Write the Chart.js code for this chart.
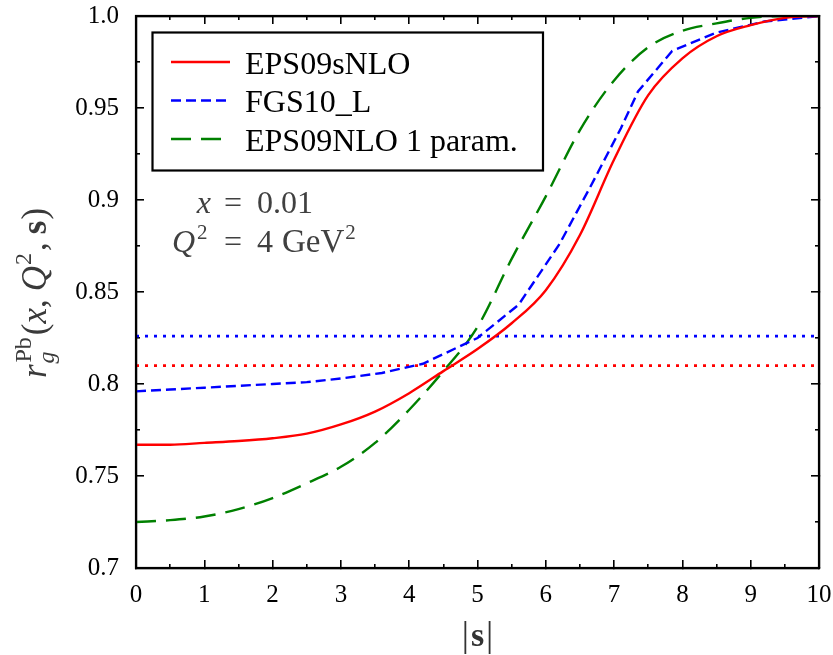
<!DOCTYPE html>
<html>
<head>
<meta charset="utf-8">
<script src="https://cdn.jsdelivr.net/npm/chart.js@4.4.1/dist/chart.umd.min.js"></script>
</head>
<body style="margin:0">
<canvas id="chart" width="833" height="655"></canvas>
<script>
// Impact-parameter grid |s| and the three model curves r_g^Pb(x=0.01, Q^2=4 GeV^2, s)
const sGrid = [0, 0.5, 1, 1.5, 2, 2.5, 3, 3.5, 4, 4.5, 5, 5.5, 6, 6.5, 7, 7.5, 8, 8.5, 9, 9.5, 10];
const eps09sNLO = [0.767, 0.767, 0.768, 0.769, 0.7705, 0.773, 0.778, 0.785, 0.795, 0.807, 0.819, 0.833, 0.851, 0.881, 0.922, 0.957, 0.977, 0.989, 0.995, 0.999, 1.0];
const eps09NLO1 = [0.725, 0.726, 0.728, 0.732, 0.738, 0.746, 0.755, 0.768, 0.786, 0.807, 0.831, 0.868, 0.902, 0.938, 0.965, 0.983, 0.992, 0.996, 0.999, 1.0, 1.0];

// FGS10_L is tabulated on a coarser grid of its own
const sFgs = [0, 0.5, 1, 1.5, 2, 2.5, 3, 3.6, 4.2, 5.0, 5.6, 6.2, 6.65, 7.1, 7.35, 7.85, 8.5, 9.2, 10];
const fgs10L = [0.796, 0.797, 0.798, 0.799, 0.800, 0.801, 0.803, 0.806, 0.811, 0.825, 0.843, 0.876, 0.907, 0.939, 0.959, 0.981, 0.991, 0.997, 1.0];

// Dotted reference levels (s-independent values)
const refEps09s = 0.810;
const refFgs = 0.826;

const seriesLabels = ['EPS09sNLO', 'FGS10_L', 'EPS09NLO 1 param.'];
const xTickLabels = ['0', '1', '2', '3', '4', '5', '6', '7', '8', '9', '10'];
const xMinorTicks = [0.5, 1.5, 2.5, 3.5, 4.5, 5.5, 6.5, 7.5, 8.5, 9.5];
const yTickValues = [0.7, 0.75, 0.8, 0.85, 0.9, 0.95, 1.0];
const yTickLabels = ['0.7', '0.75', '0.8', '0.85', '0.9', '0.95', '1.0'];
const yMinorTicks = [0.725, 0.775, 0.825, 0.875, 0.925, 0.975];

const SERIF = '"Liberation Serif", serif';
Chart.defaults.font.family = SERIF;

const pts = (xs, ys) => xs.map((x, i) => ({ x: x, y: ys[i] }));
const flat = (v) => [{ x: 0, y: v }, { x: 10, y: v }];

const datasets = [
  { label: seriesLabels[0], data: pts(sGrid, eps09sNLO), borderColor: '#ff0000', borderWidth: 2.4,
    cubicInterpolationMode: 'monotone', pointRadius: 0 },
  { label: seriesLabels[1], data: pts(sFgs, fgs10L), borderColor: '#0000ff', borderWidth: 2.4,
    borderDash: [10, 5], tension: 0, pointRadius: 0 },
  { label: seriesLabels[2], data: pts(sGrid, eps09NLO1), borderColor: '#008000', borderWidth: 2.4,
    borderDash: [20, 10], cubicInterpolationMode: 'monotone', pointRadius: 0 },
  { label: 'ref-fgs', data: flat(refFgs), borderColor: '#0000ff', borderWidth: 2.6,
    borderDash: [3, 6], pointRadius: 0 },
  { label: 'ref-eps', data: flat(refEps09s), borderColor: '#ff0000', borderWidth: 2.6,
    borderDash: [3, 6], pointRadius: 0 }
];

// Draws a sequence of styled text runs; returns the advance width
function runs(ctx, list, x0, y0, measureOnly) {
  let x = x0;
  for (const r of list) {
    ctx.font = (r.style ? r.style + ' ' : '') + r.size + 'px ' + SERIF;
    const w = ctx.measureText(r.t).width;
    if (!measureOnly) ctx.fillText(r.t, x + (r.dx || 0), y0 + (r.dy || 0));
    x += w + (r.gap || 0) + (r.dx || 0);
  }
  return x - x0;
}

const decor = {
  id: 'decor',
  afterDraw(chart) {
    const ctx = chart.ctx, a = chart.chartArea;
    const xs = chart.scales.x;
    ctx.save();
    ctx.strokeStyle = '#000';
    ctx.lineWidth = 2.2;
    ctx.strokeRect(a.left, a.top, a.right - a.left, a.bottom - a.top);

    // legend
    ctx.textBaseline = 'alphabetic';
    ctx.textAlign = 'left';
    ctx.fillStyle = '#fff';
    ctx.fillRect(152.5, 32.5, 390.5, 138);
    ctx.strokeRect(152.5, 32.5, 390.5, 138);
    const rowsBase = [73.5, 112, 150.5];
    chart.data.datasets.slice(0, 3).forEach((ds, i) => {
      const ly = rowsBase[i] - 11.5;
      ctx.save();
      ctx.strokeStyle = ds.borderColor;
      ctx.lineWidth = 2.4;
      ctx.setLineDash(ds.borderDash || []);
      ctx.beginPath();
      ctx.moveTo(171, ly); ctx.lineTo(230, ly);
      ctx.stroke();
      ctx.restore();
      ctx.fillStyle = '#000';
      ctx.font = '32px ' + SERIF;
      ctx.fillText(ds.label, 245, rowsBase[i]);
    });

    // kinematics annotation, aligned on the equals signs
    ctx.fillStyle = '#404040';
    ctx.textAlign = 'right';
    ctx.font = 'italic 32px ' + SERIF;
    ctx.fillText('x', 211, 213);
    ctx.textAlign = 'left';
    ctx.font = '32px ' + SERIF;
    ctx.fillText('=', 224, 213);
    ctx.fillText('0.01', 257, 213);
    runs(ctx, [{ t: 'Q', style: 'italic', size: 32, gap: 2 }, { t: '2', size: 21, dy: -13 }], 172, 252);
    ctx.font = '32px ' + SERIF;
    ctx.fillText('=', 224, 252);
    runs(ctx, [{ t: '4', size: 32, gap: 9 }, { t: 'GeV', size: 33, gap: 1 }, { t: '2', size: 21, dy: -13 }], 257, 252);

    // x-axis title |s|
    ctx.fillStyle = '#333';
    const xr = [{ t: '|', size: 36, gap: 2 }, { t: 's', style: 'bold', size: 34, gap: 2 }, { t: '|', size: 36 }];
    const xw = runs(ctx, xr, 0, 0, true);
    runs(ctx, xr, xs.getPixelForValue(5) - xw / 2, 646);

    // y-axis title r_g^Pb(x, Q^2, s)
    ctx.translate(46, 293);
    ctx.rotate(-Math.PI / 2);
    ctx.fillStyle = '#3a3a3a';
    const yr = [
      { t: 'r', style: 'italic', size: 35, gap: 1 },
      { t: 'g', style: 'italic', size: 24, dy: 8 },
      { t: 'Pb', size: 24, dy: -15, dx: -11, gap: 2 },
      { t: '(', size: 35 },
      { t: 'x', style: 'italic', size: 35 },
      { t: ',', size: 35, gap: 8 },
      { t: 'Q', style: 'italic', size: 35, gap: 1 },
      { t: '2', size: 24, dy: -15, gap: 2 },
      { t: ',', size: 35, gap: 8 },
      { t: 's', style: 'bold', size: 35, gap: 1 },
      { t: ')', size: 35 }
    ];
    const yw = runs(ctx, yr, 0, 0, true);
    runs(ctx, yr, -yw / 2, 0);
    ctx.restore();
  }
};

// Axis helpers: frame sides drawn by the scales themselves, ticks pointing inward
const tickGrid = (len) => ({ display: true, drawOnChartArea: false, drawTicks: true, tickLength: -len,
                             color: '#000', lineWidth: 1.6 });
const noPad = s => { s.paddingLeft = 0; s.paddingRight = 0; s.paddingTop = 0; s.paddingBottom = 0; };

function xSide(position, values, len, weight, withBorder) {
  return {
    type: 'linear', position: position, min: 0, max: 10, weight: weight,
    grid: tickGrid(len),
    border: { display: withBorder, color: '#000', width: 2.2 },
    afterFit: s => { s.height = 0; noPad(s); },
    afterBuildTicks: s => { s.ticks = values.map(v => ({ value: v })); },
    ticks: { display: false }
  };
}
function ySide(position, values, len, weight, withBorder) {
  return {
    type: 'linear', position: position, min: 0.7, max: 1.0, weight: weight,
    grid: tickGrid(len),
    border: { display: withBorder, color: '#000', width: 2.2 },
    afterFit: s => { s.width = 0; noPad(s); },
    afterBuildTicks: s => { s.ticks = values.map(v => ({ value: v })); },
    ticks: { display: false }
  };
}

const xMajor = xTickLabels.map((_, i) => i);

new Chart(document.getElementById('chart'), {
  type: 'line',
  data: { datasets: datasets },
  options: {
    responsive: false, animation: false, devicePixelRatio: 1,
    layout: { padding: { left: 0, right: 14, top: 16, bottom: 0 } },
    plugins: { legend: { display: false }, tooltip: { enabled: false } },
    scales: {
      x: { type: 'linear', position: 'bottom', min: 0, max: 10, weight: 0,
           grid: tickGrid(8),
           border: { display: true, color: '#000', width: 2.2 },
           afterFit: s => { s.height = 87; noPad(s); },
           afterBuildTicks: s => { s.ticks = xMajor.map(v => ({ value: v })); },
           ticks: { padding: 20, color: '#000', maxRotation: 0, autoSkip: false,
                    font: { family: SERIF, size: 25 },
                    callback: (v, i) => xTickLabels[i] } },
      y: { type: 'linear', position: 'left', min: 0.7, max: 1.0, weight: 0,
           grid: tickGrid(8),
           border: { display: true, color: '#000', width: 2.2 },
           afterFit: s => { s.width = 136; noPad(s); },
           afterBuildTicks: s => { s.ticks = yTickValues.map(v => ({ value: v })); },
           ticks: { padding: 25, color: '#000', autoSkip: false,
                    font: { family: SERIF, size: 25 },
                    callback: (v, i) => yTickLabels[i] } },
      xMinorBottom: xSide('bottom', xMinorTicks, 4, -1, false),
      xTop: xSide('top', xMajor, 8, 0, true),
      xMinorTop: xSide('top', xMinorTicks, 4, -1, false),
      yMinorLeft: ySide('left', yMinorTicks, 4, -1, false),
      yRight: ySide('right', yTickValues, 8, 0, true),
      yMinorRight: ySide('right', yMinorTicks, 4, -1, false)
    }
  },
  plugins: [decor]
});
</script>
</body>
</html>
